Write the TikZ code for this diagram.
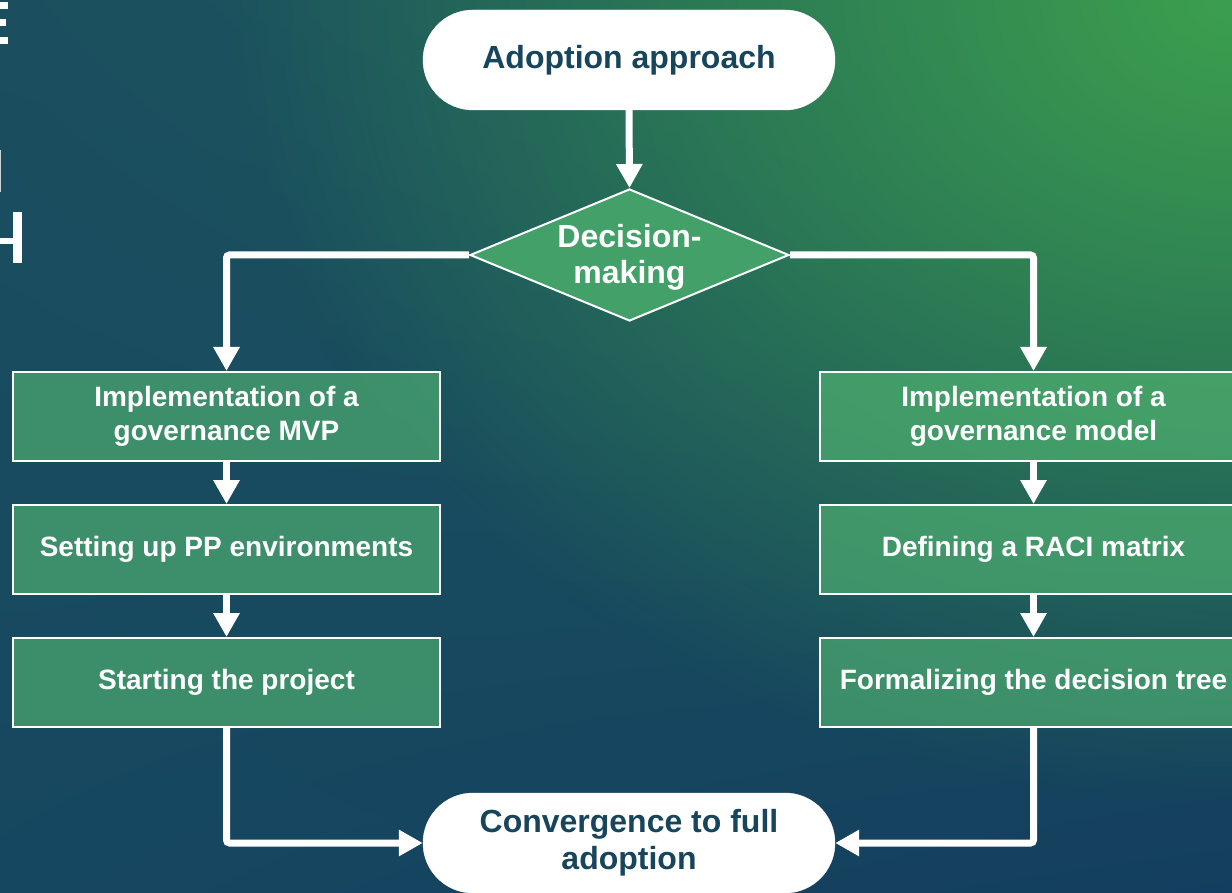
\documentclass[tikz,border=0pt]{standalone}
\usepackage{fontspec}
\setmainfont{Liberation Sans}
\usetikzlibrary{arrows.meta,shapes.geometric,shadings,fadings}
\definecolor{navy}{HTML}{17455C}
\definecolor{boxg}{HTML}{53B773}
\definecolor{dmd}{HTML}{44A069}
\definecolor{bgTL}{HTML}{1B4F5F}
\definecolor{bgTR}{HTML}{1E5E5A}
\definecolor{bgBL}{HTML}{164760}
\definecolor{bgBR}{HTML}{143E5F}
\definecolor{glow}{HTML}{3C9F4E}
\tikzfading[name=glowfade, inner color=transparent!0, outer color=transparent!100]
\begin{document}
\begin{tikzpicture}[x=1pt,y=-1pt,
  term/.style={rectangle, rounded corners=50pt, fill=white, draw=white,
    minimum width=412pt, minimum height=100pt, inner sep=0pt, align=center,
    text=navy, font=\bfseries\fontsize{32}{37}\selectfont},
  stepbox/.style={rectangle, draw=white, line width=2pt, fill=boxg, fill opacity=0.63,
    text opacity=1, minimum width=427pt, minimum height=89pt, inner sep=0pt, align=center,
    text=white, font=\bfseries\fontsize{28}{34}\selectfont},
  conn/.style={draw=white, line width=7pt, rounded corners=3pt,
    -{Triangle[width=25pt,length=24pt]}}
]
\useasboundingbox (0,0) rectangle (1232,893);
\clip (0,0) rectangle (1232,893);
\shade[upper left=bgTL, upper right=bgTR, lower left=bgBL, lower right=bgBR]
  (0,0) rectangle (1232,893);
\fill[glow, path fading=glowfade] (1232,0) ellipse [x radius=1000pt, y radius=800pt];
% cropped title fragments at left edge
\fill[white] (0,2) rectangle (8,9);
\fill[white] (0,19) rectangle (6,26);
\fill[white] (0,37) rectangle (8,44);
\fill[white!75!bgTL] (0,150) rectangle (1.2,192);
\fill[white] (13,212) rectangle (22,263);
\fill[white] (0,238) rectangle (13,244);

\node[term] (start) at (629,60) {Adoption approach};
\node[diamond, fill=dmd, draw=white, line width=2pt, minimum width=319pt,
  minimum height=132pt, inner sep=0pt] (dec) at (629.5,255) {};
\node[text=white, align=center, inner sep=0pt,
  font=\bfseries\fontsize{32}{36}\selectfont] (dectext) at (629.5,257) {Decision-\\making};

\node[stepbox] (l1) at (226.5,416.5) {Implementation of a\\governance MVP};
\node[stepbox] (l2) at (226.5,549.5) {Setting up PP environments};
\node[stepbox] (l3) at (226.5,682.5) {Starting the project};

\node[stepbox] (r1) at (1033.5,416.5) {Implementation of a\\governance model};
\node[stepbox] (r2) at (1033.5,549.5) {Defining a RACI matrix};
\node[stepbox] (r3) at (1033.5,682.5) {Formalizing the decision tree};

\node[term] (conv) at (629,843) {Convergence to full\\adoption};

\draw[conn] (start.south) -- (dec.north);
\draw[conn] (dec.west) -| (l1.north);
\draw[conn] (dec.east) -| (r1.north);
\draw[conn] (l1.south) -- (l2.north);
\draw[conn] (l2.south) -- (l3.north);
\draw[conn] (r1.south) -- (r2.north);
\draw[conn] (r2.south) -- (r3.north);
\draw[conn] (l3.south) |- (conv.west);
\draw[conn] (r3.south) |- (conv.east);
\end{tikzpicture}
\end{document}
